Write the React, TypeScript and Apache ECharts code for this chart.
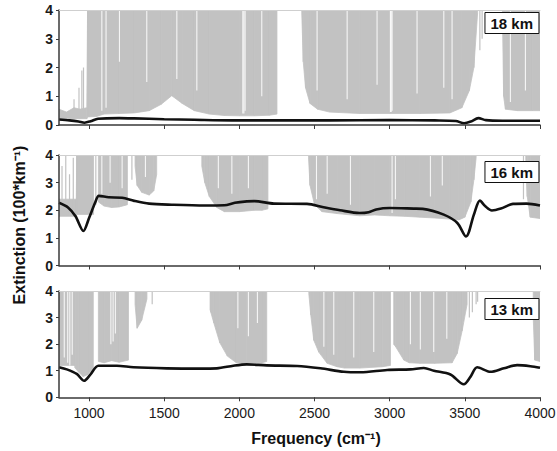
import React, { useEffect, useRef } from "react";
import * as echarts from "echarts";

// ---------- axis ticks / labels ----------
const xTicks = [1000, 1500, 2000, 2500, 3000, 3500, 4000];
const panelLabels = ["18 km", "16 km", "13 km"];

// ---------- particle extinction (black curves) ----------
const ext18Freq = [800, 870, 930, 970, 1010, 1060, 1200, 1300, 1500, 1700, 1950, 2250, 2600, 3000, 3300, 3440, 3495, 3540, 3590, 3640, 3750, 4000];
const ext18Val = [0.19, 0.16, 0.12, 0.08, 0.13, 0.22, 0.24, 0.23, 0.2, 0.18, 0.16, 0.16, 0.16, 0.17, 0.16, 0.14, 0.06, 0.12, 0.24, 0.17, 0.15, 0.15];

const ext16Freq = [800, 860, 910, 962, 1000, 1040, 1065, 1130, 1220, 1300, 1400, 1550, 1770, 1900, 1970, 2050, 2100, 2230, 2450, 2560, 2670, 2800, 2860, 2910, 3000, 3160, 3220, 3360, 3450, 3508, 3560, 3600, 3635, 3680, 3740, 3820, 3910, 4000];
const ext16Val = [2.27, 2.1, 1.78, 1.25, 1.72, 2.27, 2.52, 2.47, 2.45, 2.34, 2.24, 2.2, 2.17, 2.18, 2.27, 2.32, 2.33, 2.24, 2.23, 2.11, 2.0, 1.9, 1.93, 2.03, 2.08, 2.06, 2.05, 1.84, 1.54, 1.05, 1.84, 2.35, 2.15, 1.99, 2.06, 2.23, 2.24, 2.17];

const ext13Freq = [800, 852, 918, 967, 1007, 1062, 1185, 1295, 1517, 1739, 1850, 1960, 2049, 2182, 2384, 2539, 2695, 2805, 2983, 3138, 3227, 3294, 3404, 3493, 3537, 3582, 3670, 3759, 3848, 3936, 4000];
const ext13Val = [1.13, 1.05, 0.88, 0.62, 0.84, 1.19, 1.19, 1.13, 1.09, 1.08, 1.09, 1.19, 1.24, 1.2, 1.18, 1.09, 0.96, 0.94, 1.03, 1.05, 1.1, 1.0, 0.86, 0.49, 0.77, 1.13, 0.96, 1.09, 1.21, 1.17, 1.11];

// ---------- gas absorption (grey band: lower / upper envelope, null = gap) ----------
const gas18Freq = [800, 850, 900, 940, 985, 990, 1050, 1100, 1200, 1300, 1400, 1480, 1550, 1620, 1700, 1800, 1900, 2000, 2100, 2200, 2250, 2330, 2415, 2425, 2440, 2470, 2520, 2600, 2800, 3000, 3200, 3400, 3480, 3530, 3560, 3585, 3670, 3750, 3758, 3770, 3850, 3950, 4000];
const gas18Low = [0.22, 0.22, 0.22, 0.22, 0.22, 0.28, 0.3, 0.38, 0.4, 0.42, 0.5, 0.72, 1.02, 0.75, 0.5, 0.38, 0.33, 0.32, 0.32, 0.34, 0.38, null, 3.9, 2.2, 1.3, 0.75, 0.55, 0.45, 0.4, 0.4, 0.4, 0.42, 0.6, 1.2, 2.0, 3.9, null, 3.9, 1.0, 0.55, 0.5, 0.5, 0.5];
const gas18High = [0.55, 0.45, 0.6, 0.55, 0.6, 4, 4, 4, 4, 4, 4, 4, 4, 4, 4, 4, 4, 4, 4, 4, 4, null, 4, 4, 4, 4, 4, 4, 4, 4, 4, 4, 4, 4, 4, 4, null, 4, 4, 4, 4, 4, 4];
const gap18 = [[1085, 0.5], [1113, 0.6], [1202, 2.2], [1384, 1.5], [1584, 1.6], [1717, 1.2], [2023, 0.4], [2030, 0.4], [2038, 0.5], [2149, 1.0], [2517, 1.2], [2717, 0.9], [2916, 1.4], [3005, 0.45], [3010, 0.45], [3016, 0.5], [3182, 1.1], [3360, 1.3], [3415, 0.9], [3803, 0.8], [3903, 1.2]];
const spike18 = [[900, 0.25, 0.9], [933, 0.25, 1.3], [952, 0.25, 1.9], [963, 0.25, 2.0], [3600, 2.6, 4], [3615, 3.0, 4]];

const gas16Freq = [800, 915, 918, 1030, 1046, 1062, 1100, 1150, 1200, 1255, 1280, 1306, 1320, 1350, 1400, 1430, 1450, 1600, 1750, 1770, 1800, 1850, 1900, 2000, 2100, 2150, 2190, 2320, 2460, 2470, 2500, 2550, 2650, 2800, 2900, 3000, 3100, 3200, 3300, 3400, 3460, 3500, 3540, 3560, 3575, 3740, 3905, 3915, 3935, 4000];
const gas16Low = [1.78, 1.78, 1.85, 1.85, null, 2.3, 2.15, 2.1, 2.12, 2.2, null, 3.6, 2.9, 2.65, 2.55, 2.7, 3.3, null, 3.6, 3.0, 2.5, 2.1, 1.95, 1.95, 2.0, 2.0, 2.05, null, 3.9, 2.9, 2.2, 1.95, 1.88, 1.8, 1.83, 1.8, 1.78, 1.75, 1.72, 1.68, 1.65, 1.75, 2.3, 3.1, 3.9, null, 3.9, 2.5, 1.75, 1.7];
const gas16High = [2.4, 2.4, 4, 4, null, 4, 4, 4, 4, 4, null, 4, 4, 4, 4, 4, 4, null, 4, 4, 4, 4, 4, 4, 4, 4, 4, null, 4, 4, 4, 4, 4, 4, 4, 4, 4, 4, 4, 4, 4, 4, 4, 4, 4, null, 4, 4, 4, 4];
const gap16 = [[1085, 2.6], [1140, 3.0], [1220, 2.8], [1375, 3.2], [1860, 2.8], [1950, 2.6], [2060, 2.8], [2513, 2.4], [2584, 2.6], [2739, 2.2], [3016, 1.9], [3038, 2.4], [3271, 2.5], [3350, 2.9]];
const spike16 = [[820, 1.8, 3.6], [845, 1.8, 4], [870, 1.8, 3.3], [895, 1.8, 3.9], [1045, 2.2, 4], [1285, 3.1, 4], [3890, 2.4, 4]];

const gas13Freq = [800, 905, 908, 930, 960, 990, 1028, 1045, 1062, 1100, 1150, 1200, 1262, 1285, 1306, 1320, 1350, 1385, 1600, 1805, 1830, 1870, 1920, 1980, 2050, 2150, 2182, 2300, 2462, 2475, 2495, 2528, 2584, 2650, 2700, 2800, 2950, 3005, 3015, 3027, 3040, 3094, 3130, 3200, 3300, 3415, 3449, 3482, 3515, 3700, 3955, 3965, 4000];
const gas13Low = [1.2, 1.2, 1.1, 0.95, 0.78, 0.85, 1.1, null, 1.35, 1.3, 1.38, 1.32, 1.4, null, 3.5, 2.6, 2.9, 3.7, null, 3.3, 2.8, 2.05, 1.55, 1.3, 1.28, 1.3, 1.35, null, 3.9, 3.1, 2.15, 1.7, 1.28, 1.15, 1.1, 1.1, 1.15, 1.2, null, 2.0, 1.9, 1.4, 1.3, 1.28, 1.28, 1.3, 1.65, 2.5, 3.5, null, 3.0, 1.4, 1.35];
const gas13High = [4, 4, 4, 4, 4, 4, 4, null, 4, 4, 4, 4, 4, null, 4, 4, 4, 4, null, 4, 4, 4, 4, 4, 4, 4, 4, null, 4, 4, 4, 4, 4, 4, 4, 4, 4, 4, null, 4, 4, 4, 4, 4, 4, 4, 4, 4, 4, null, 4, 4, 4];
const gap13 = [[835, 1.5], [858, 1.3], [872, 1.2], [888, 1.6], [1145, 2.0], [1160, 2.1], [1175, 2.4], [1990, 2.6], [2060, 2.3], [2120, 2.8], [2562, 1.9], [2628, 1.6], [2761, 1.5], [2894, 1.7], [3138, 2.0], [3204, 1.8], [3293, 1.7], [3380, 2.2]];
const spike13 = [[1420, 3.5, 4], [1810, 3.2, 4], [3530, 3.0, 4], [3550, 3.2, 4], [3575, 3.5, 4], [3585, 3.6, 4]];

const GRAY = "#c2c2c2";
const FONT = "'Liberation Sans', Arial, Helvetica, sans-serif";

function bandSegments(f: number[], lo: (number | null)[], hi: (number | null)[]) {
  const out: number[][] = [];
  for (let k = 0; k < f.length - 1; k++) {
    if (lo[k] == null || lo[k + 1] == null || hi[k] == null || hi[k + 1] == null) continue;
    out.push([f[k], lo[k] as number, hi[k] as number, f[k + 1], lo[k + 1] as number, hi[k + 1] as number]);
  }
  return out;
}

export default function App() {
  const ref = useRef<HTMLDivElement>(null);
  useEffect(() => {
    if (!ref.current) return;
    const chart = echarts.init(ref.current, null, { renderer: "svg" });
    const panels = [
      { freq: gas18Freq, low: gas18Low, high: gas18High, gaps: gap18, spikes: spike18, lf: ext18Freq, lv: ext18Val },
      { freq: gas16Freq, low: gas16Low, high: gas16High, gaps: gap16, spikes: spike16, lf: ext16Freq, lv: ext16Val },
      { freq: gas13Freq, low: gas13Low, high: gas13High, gaps: gap13, spikes: spike13, lf: ext13Freq, lv: ext13Val },
    ];
    const gridBoxes = [
      { top: 10, height: 115 },
      { top: 155, height: 110.5 },
      { top: 291, height: 106.3 },
    ];
    const labelTops = [12, 161, 298];

    const grid = gridBoxes.map((g) => ({
      left: 59,
      right: 17,
      top: g.top,
      height: g.height,
      containLabel: false,
      outerBoundsMode: "none",
    }));

    const xAxisBottom = panels.map((_, i) => ({
      type: "value",
      gridIndex: i,
      min: 800,
      max: 4000,
      z: 10,
      axisLine: { show: true, onZero: false, lineStyle: { color: "#3a3a3a", width: 1.5 } },
      axisTick: { show: true, length: 4, customValues: xTicks, lineStyle: { color: "#3a3a3a", width: 1 } },
      axisLabel: {
        show: i === 2,
        customValues: xTicks,
        formatter: (v: number) => String(v),
        fontSize: 14,
        color: "#1a1a1a",
        fontFamily: FONT,
        margin: 9,
      },
      splitLine: { show: false },
    }));
    const xAxisTop = panels.map((_, i) => ({
      type: "value",
      gridIndex: i,
      min: 800,
      max: 4000,
      position: "top",
      z: 10,
      axisLine: { show: true, onZero: false, lineStyle: { color: "#cfcfcf", width: 1 } },
      axisTick: { show: false },
      axisLabel: { show: false },
      splitLine: { show: false },
    }));
    const yAxis = panels.map((_, i) => ({
      type: "value",
      gridIndex: i,
      min: 0,
      max: 4,
      interval: 1,
      z: 10,
      axisLine: { show: true, onZero: false, lineStyle: { color: "#3a3a3a", width: 1.5 } },
      axisTick: { show: true, length: 3, lineStyle: { color: "#3a3a3a" } },
      axisLabel: { fontSize: 14, fontWeight: "bold", color: "#1a1a1a", fontFamily: FONT, margin: 6 },
      splitLine: { show: false },
    }));

    const series: any[] = [];
    panels.forEach((p, i) => {
      series.push({
        type: "custom",
        xAxisIndex: i,
        yAxisIndex: i,
        clip: true,
        silent: true,
        z: 1,
        data: bandSegments(p.freq, p.low, p.high),
        renderItem: (_params: any, api: any) => {
          const a = api.coord([api.value(0), api.value(1)]);
          const b = api.coord([api.value(3), api.value(4)]);
          const c = api.coord([api.value(3), api.value(5)]);
          const d = api.coord([api.value(0), api.value(2)]);
          return {
            type: "polygon",
            shape: { points: [a, b, c, d] },
            style: { fill: GRAY, stroke: GRAY, lineWidth: 0.8 },
          };
        },
      });
      series.push({
        type: "custom",
        xAxisIndex: i,
        yAxisIndex: i,
        clip: true,
        silent: true,
        z: 2,
        data: p.spikes,
        renderItem: (_params: any, api: any) => {
          const a = api.coord([api.value(0), api.value(1)]);
          const b = api.coord([api.value(0), api.value(2)]);
          return {
            type: "line",
            shape: { x1: a[0], y1: a[1], x2: b[0], y2: b[1] },
            style: { stroke: GRAY, lineWidth: 1.2 },
          };
        },
      });
      series.push({
        type: "custom",
        xAxisIndex: i,
        yAxisIndex: i,
        clip: true,
        silent: true,
        z: 3,
        data: p.gaps.map((g) => [g[0], g[1], 4]),
        renderItem: (_params: any, api: any) => {
          const a = api.coord([api.value(0), api.value(1)]);
          const b = api.coord([api.value(0), api.value(2)]);
          return {
            type: "line",
            shape: { x1: a[0], y1: a[1], x2: b[0], y2: b[1] },
            style: { stroke: "#ffffff", lineWidth: 1.1, opacity: 0.85 },
          };
        },
      });
      series.push({
        type: "line",
        xAxisIndex: i,
        yAxisIndex: i,
        data: p.lf.map((f, k) => [f, p.lv[k]]),
        smooth: 0.3,
        symbol: "none",
        clip: true,
        z: 5,
        lineStyle: { color: "#111111", width: 2.6 },
      });
    });

    const option: any = {
      animation: false,
      backgroundColor: "#ffffff",
      grid,
      xAxis: [...xAxisBottom, ...xAxisTop],
      yAxis,
      title: panelLabels.map((t, i) => ({
        text: t,
        right: 18,
        top: labelTops[i],
        padding: [4, 6, 3, 6],
        borderColor: "#111",
        borderWidth: 1,
        backgroundColor: "#ffffff",
        textStyle: { fontSize: 15, fontWeight: "bold", color: "#111", fontFamily: FONT },
      })),
      graphic: [
        {
          type: "text",
          x: 19,
          y: 225,
          rotation: Math.PI / 2,
          style: {
            text: "Extinction (100*km⁻¹)",
            fontSize: 16,
            fontWeight: "bold",
            fontFamily: FONT,
            fill: "#111",
            align: "center",
            verticalAlign: "middle",
          },
        },
        {
          type: "text",
          x: 316,
          y: 438,
          style: {
            text: "Frequency (cm⁻¹)",
            fontSize: 16,
            fontWeight: "bold",
            fontFamily: FONT,
            fill: "#111",
            align: "center",
            verticalAlign: "middle",
          },
        },
      ],
      series,
    };
    chart.setOption(option);
    return () => chart.dispose();
  }, []);
  return (
    <div
      ref={ref}
      style={{ position: "fixed", left: 0, top: 0, width: 557, height: 451, background: "#fff" }}
    />
  );
}
